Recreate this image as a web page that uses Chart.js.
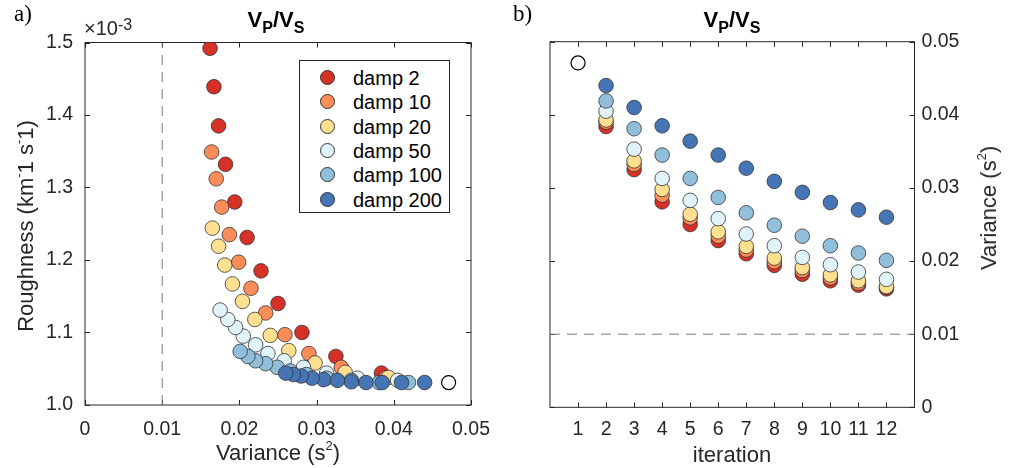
<!DOCTYPE html>
<html>
<head>
<meta charset="utf-8">
<script src="https://cdn.jsdelivr.net/npm/chart.js@4.4.1/dist/chart.umd.min.js"></script>
<style>
  body { margin: 0; background: #fff; width: 1010px; height: 468px; position: relative; overflow: hidden;
         font-family: "Liberation Sans", Arial, Helvetica, sans-serif; color: #262626; }
  canvas { position: absolute; top: 0; }
  #cLeft { left: 0; }
  #cRight { left: 505px; }
  .lbl { position: absolute; white-space: nowrap; transform: translate(-50%, -50%); }
  .panel { font-family: "Liberation Serif", "Times New Roman", serif; font-size: 23px; color: #000; transform: none; }
  .ttl { font-weight: bold; font-size: 22px; color: #000; }
  .ttl sub { font-size: 16px; vertical-align: -6px; }
  .axt { font-size: 22px; }
  .axt sup { font-size: 13px; vertical-align: 10px; }
  .rot { transform: translate(-50%, -50%) rotate(-90deg); }
  .expo { position: absolute; font-size: 20px; left: 84px; top: 16px; }
  .expo sup { font-size: 16px; vertical-align: 5px; }
  #legend { position: absolute; left: 299px; top: 60px; width: 151px; height: 153px; box-sizing: border-box;
            border: 1px solid #262626; background: #fff; }
  #legend .row { position: absolute; left: 0; height: 24px; font-size: 20px; color: #000; }
  #legend .dot { position: absolute; left: 20px; top: 4px; width: 15px; height: 15px; border-radius: 50%;
                 box-sizing: border-box; border: 0.8px solid #333; }
  #legend .txt { position: absolute; left: 53px; top: 0; line-height: 24px; white-space: nowrap; }
</style>
</head>
<body>
<canvas id="cLeft" width="505" height="468"></canvas>
<canvas id="cRight" width="505" height="468"></canvas>

<div class="lbl panel" style="left:14px;top:1px">a)</div>
<div class="lbl panel" style="left:513px;top:1px">b)</div>
<div class="lbl ttl" style="left:276px;top:22px">V<sub>P</sub>/V<sub>S</sub></div>
<div class="lbl ttl" style="left:732px;top:22px">V<sub>P</sub>/V<sub>S</sub></div>
<div class="expo">&times;10<sup>-3</sup></div>
<div class="lbl axt" style="left:278px;top:452px">Variance (s<sup>2</sup>)</div>
<div class="lbl axt rot" style="left:25px;top:226px">Roughness (km<sup>-</sup>1 s<sup>-</sup>1)</div>
<div class="lbl axt" style="left:732px;top:455px">iteration</div>
<div class="lbl axt rot" style="left:988px;top:208px">Variance (s<sup>2</sup>)</div>
<div id="legend"></div>

<script>
// series names and colours
const damps = ['damp 2', 'damp 10', 'damp 20', 'damp 50', 'damp 100', 'damp 200'];
const colours = ['#d73027', '#fc8d59', '#fee090', '#e0f3f8', '#91bfdb', '#4575b4'];

// iterations 2..12 (iteration 1 is the starting model)
const iterations = [2, 3, 4, 5, 6, 7, 8, 9, 10, 11, 12];

// variance (s^2) per iteration
const varDamp2   = [0.0384, 0.0325, 0.0281, 0.0250, 0.0228, 0.0210, 0.0194, 0.0182, 0.0173, 0.0167, 0.0162];
const varDamp10  = [0.0390, 0.0332, 0.0290, 0.0259, 0.0234, 0.0215, 0.0199, 0.0187, 0.0177, 0.0170, 0.0164];
const varDamp20  = [0.0393, 0.0337, 0.0298, 0.0264, 0.0240, 0.0220, 0.0204, 0.0191, 0.0181, 0.0173, 0.0165];
const varDamp50  = [0.0405, 0.0353, 0.0313, 0.0283, 0.0258, 0.0237, 0.0221, 0.0205, 0.0195, 0.0185, 0.0175];
const varDamp100 = [0.0419, 0.0381, 0.0345, 0.0313, 0.0287, 0.0266, 0.0249, 0.0234, 0.0221, 0.0211, 0.0201];
const varDamp200 = [0.0440, 0.0410, 0.0385, 0.0364, 0.0345, 0.0327, 0.0309, 0.0294, 0.0280, 0.0270, 0.0260];

// roughness (x10^-3 km^-1 s^-1) per iteration
const roughDamp2   = [1.044, 1.067, 1.100, 1.140, 1.185, 1.231, 1.280, 1.332, 1.385, 1.439, 1.492];
const roughDamp10  = [1.038, 1.052, 1.071, 1.097, 1.127, 1.161, 1.197, 1.235, 1.273, 1.312, 1.349];
const roughDamp20  = [1.038, 1.045, 1.058, 1.075, 1.096, 1.118, 1.143, 1.167, 1.193, 1.219, 1.244];
const roughDamp50  = [1.034, 1.037, 1.044, 1.052, 1.061, 1.071, 1.083, 1.095, 1.107, 1.118, 1.131];
const roughDamp100 = [1.031, 1.031, 1.034, 1.037, 1.042, 1.047, 1.052, 1.057, 1.061, 1.067, 1.074];
const roughDamp200 = [1.031, 1.031, 1.031, 1.031, 1.032, 1.034, 1.035, 1.037, 1.040, 1.042, 1.044];

// starting model and target variance
const startIteration = 1;
const startVariance = 0.0471;
const startRoughness = 1.031;
const targetVariance = 0.01;

const varianceSets = [varDamp2, varDamp10, varDamp20, varDamp50, varDamp100, varDamp200];
const roughSets = [roughDamp2, roughDamp10, roughDamp20, roughDamp50, roughDamp100, roughDamp200];

const axisColor = '#262626';
const tickFont = { family: '"Liberation Sans", Arial, Helvetica, sans-serif', size: 19.5 };

// frame round the plot area with inward ticks on all four sides
const boxTicks = {
    id: 'boxTicks',
    beforeDatasetsDraw(chart) {
        const { ctx, chartArea: a, scales } = chart;
        const len = 5;
        ctx.save();
        ctx.strokeStyle = axisColor;
        ctx.lineWidth = 1;
        ctx.strokeRect(a.left, a.top, a.right - a.left, a.bottom - a.top);
        ctx.beginPath();
        scales.x.ticks.forEach(t => {
            const px = Math.round(scales.x.getPixelForValue(t.value)) + 0.5;
            ctx.moveTo(px, a.bottom); ctx.lineTo(px, a.bottom - len);
            ctx.moveTo(px, a.top); ctx.lineTo(px, a.top + len);
        });
        scales.y.ticks.forEach(t => {
            const py = Math.round(scales.y.getPixelForValue(t.value)) + 0.5;
            ctx.moveTo(a.left, py); ctx.lineTo(a.left + len, py);
            ctx.moveTo(a.right, py); ctx.lineTo(a.right - len, py);
        });
        ctx.stroke();
        ctx.restore();
    }
};

function pointStyle(i) {
    return {
        backgroundColor: colours[i],
        borderColor: '#333',
        borderWidth: 0.8,
        pointRadius: 7.3,
        pointHoverRadius: 7.3,
        order: damps.length - i + 1
    };
}

const startStyle = {
    label: 'start',
    backgroundColor: '#fff',
    borderColor: '#000',
    borderWidth: 1.2,
    pointRadius: 7,
    order: 0
};

const dashStyle = {
    label: 'target',
    showLine: true,
    borderColor: '#7a7a7a',
    borderWidth: 1,
    borderDash: [10, 7],
    pointRadius: 0,
    order: 20
};

const commonOptions = {
    responsive: false,
    animation: false,
    devicePixelRatio: 1,
    plugins: { legend: { display: false }, tooltip: { enabled: false } },
    elements: { point: { pointStyle: 'circle' } }
};

// --- Panel a: roughness vs variance ---
const leftSets = damps.map((name, i) => Object.assign({
    label: name,
    data: varianceSets[i].map((v, k) => ({ x: v, y: roughSets[i][k] }))
}, pointStyle(i)));
leftSets.push(Object.assign({ data: [{ x: startVariance, y: startRoughness }] }, startStyle));
leftSets.push(Object.assign({ data: [{ x: targetVariance, y: 1.0 }, { x: targetVariance, y: 1.5 }] }, dashStyle));

new Chart(document.getElementById('cLeft'), {
    type: 'scatter',
    data: { datasets: leftSets },
    options: Object.assign({}, commonOptions, {
        layout: { padding: { top: 42.5, right: 34, left: 0, bottom: 0 } },
        scales: {
            x: {
                type: 'linear', min: 0, max: 0.05,
                ticks: { stepSize: 0.01, color: axisColor, font: tickFont, padding: 13, maxRotation: 0 },
                grid: { display: false, drawTicks: false },
                border: { display: false },
                afterFit: s => { s.height = 63; }
            },
            y: {
                type: 'linear', min: 1.0, max: 1.5,
                ticks: { stepSize: 0.1, color: axisColor, font: tickFont, padding: 12,
                         callback: v => v.toFixed(1) },
                grid: { display: false, drawTicks: false },
                border: { display: false },
                afterFit: s => { s.width = 85; }
            }
        }
    }),
    plugins: [boxTicks]
});

// --- Panel b: variance vs iteration ---
const rightSets = damps.map((name, i) => Object.assign({
    label: name,
    data: varianceSets[i].map((v, k) => ({ x: iterations[k], y: v }))
}, pointStyle(i)));
rightSets.push(Object.assign({ data: [{ x: startIteration, y: startVariance }] }, startStyle));
rightSets.push(Object.assign({ data: [{ x: 0, y: targetVariance }, { x: 13, y: targetVariance }] }, dashStyle));

new Chart(document.getElementById('cRight'), {
    type: 'scatter',
    data: { datasets: rightSets },
    options: Object.assign({}, commonOptions, {
        layout: { padding: { top: 41.7, right: 0, left: 45, bottom: 0 } },
        scales: {
            x: {
                type: 'linear', min: 0, max: 13,
                afterBuildTicks: s => { s.ticks = s.ticks.filter(t => t.value >= 1 && t.value <= 12); },
                ticks: { stepSize: 1, color: axisColor, font: tickFont, padding: 11, maxRotation: 0, autoSkip: false },
                grid: { display: false, drawTicks: false },
                border: { display: false },
                afterFit: s => { s.height = 60.7; }
            },
            y: {
                type: 'linear', position: 'right', min: 0, max: 0.05,
                ticks: { stepSize: 0.01, color: axisColor, font: tickFont, padding: 7 },
                grid: { display: false, drawTicks: false },
                border: { display: false },
                afterFit: s => { s.width = 95.5; }
            }
        }
    }),
    plugins: [boxTicks]
});

// legend box for panel a
const legend = document.getElementById('legend');
damps.forEach((name, i) => {
    const row = document.createElement('div');
    row.className = 'row';
    row.style.top = (5 + i * 24.3) + 'px';
    row.innerHTML = '<span class="dot" style="background:' + colours[i] + '"></span><span class="txt">' + name + '</span>';
    legend.appendChild(row);
});
</script>
</body>
</html>
